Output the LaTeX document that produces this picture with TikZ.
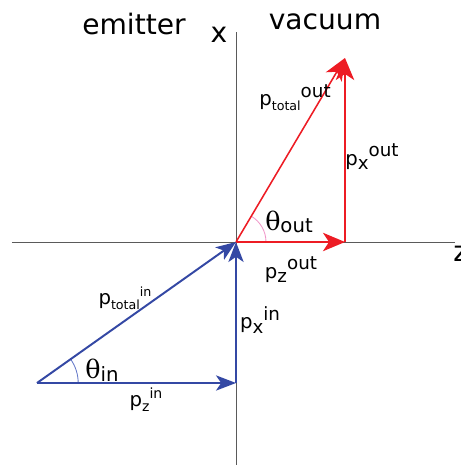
\documentclass[tikz,border=0pt]{standalone}
\usepackage{fontspec}
\setmainfont{DejaVu Sans}
\newfontfamily\thetafont{DejaVu Serif}
\usetikzlibrary{arrows.meta, calc}
\definecolor{vecred}{RGB}{237, 28, 36}
\definecolor{vecblue}{RGB}{52, 72, 164}
\definecolor{arcpink}{RGB}{240, 150, 200}
\definecolor{arcblue}{RGB}{100, 120, 200}
\definecolor{axisgray}{RGB}{90, 90, 90}
% p with subscript #1 (size #2) and superscript #3 (size #4)
\newcommand{\mom}[4]{\fontsize{14}{16}\selectfont p\raisebox{-0.45ex}{\fontsize{#2}{#2}\selectfont #1}\raisebox{0.75ex}{\fontsize{#4}{#4}\selectfont #3}}
\newcommand{\ang}[1]{{\fontsize{18}{20}\selectfont\thetafont θ}\raisebox{-0.35ex}{\fontsize{14}{16}\selectfont #1}}

\begin{document}
\begin{tikzpicture}[
      axis/.style={axisgray, line width=0.6pt},
      redvec/.style={vecred, line width=1.1pt, -{Stealth[length=5.5mm, width=4.6mm, inset=1.5mm]}},
      bluevec/.style={vecblue, line width=1.4pt, -{Stealth[length=5mm, width=3.8mm, inset=1.3mm]}},
      title/.style={font=\fontsize{20}{24}\selectfont, text=black},
      axlabel/.style={font=\fontsize{20}{24}\selectfont, text=black},
      lbl/.style={inner sep=0pt, text=black}
    ]
      \useasboundingbox (-5.9, -5.575) rectangle (5.625, 6.05);

      \coordinate (O) at (0, 0);
      \coordinate (T) at (2.725, 4.6);
      \coordinate (R) at (2.725, 0);
      \coordinate (B) at (-4.975, -3.525);
      \coordinate (C) at (0, -3.525);
      \coordinate (Xtop) at (0, 5.25);
      \coordinate (Xbot) at (0, -5.6);
      \coordinate (Zleft) at (-5.6, 0);
      \coordinate (Zright) at (5.475, 0);

      \draw[axis] (Xbot) -- (Xtop);
      \draw[axis] (Zleft) -- (Zright);

      \node[title] (emitter) at (-2.55, 5.45) {emitter};
      \node[title] (vacuum) at (2.225, 5.5) {vacuum};
      \node[axlabel] (xlab) at (-0.425, 5.175) {x};
      \node[axlabel] (zlab) at (5.62, -0.3) {z};

      \draw[arcpink, line width=0.6pt] ($(O)+(0.75,0)$) arc[start angle=0, end angle=59.4, radius=0.75];
      \draw[arcblue, line width=0.6pt] ($(B)+(1.03,0)$) arc[start angle=0, end angle=35.3, radius=1.03];

      \draw[redvec] (O) -- (R);
      \draw[redvec] (R) -- (T);
      \draw[redvec] (O) -- (T);

      \draw[bluevec] (B) -- (C);
      \draw[bluevec] (C) -- (O);
      \draw[bluevec] (B) -- (O);

      \node[lbl] (ptotout) at (1.475, 3.6) {\mom{total}{9}{out}{13}};
      \node[lbl] (pxout) at (3.4, 2.125) {\mom{x}{13}{out}{13}};
      \node[lbl] (thout) at (1.325, 0.5) {\ang{out}};
      \node[lbl] (pzout) at (1.375, -0.7) {\mom{z}{13}{out}{13}};
      \node[lbl] (ptotin) at (-2.775, -1.4) {\mom{total}{9}{in}{9}};
      \node[lbl] (pxin) at (0.6, -1.95) {\mom{x}{13}{in}{13}};
      \node[lbl] (thin) at (-3.35, -3.2) {\ang{in}};
      \node[lbl] (pzin) at (-2.25, -3.95) {\mom{z}{10}{in}{10}};
    \end{tikzpicture}
\end{document}
